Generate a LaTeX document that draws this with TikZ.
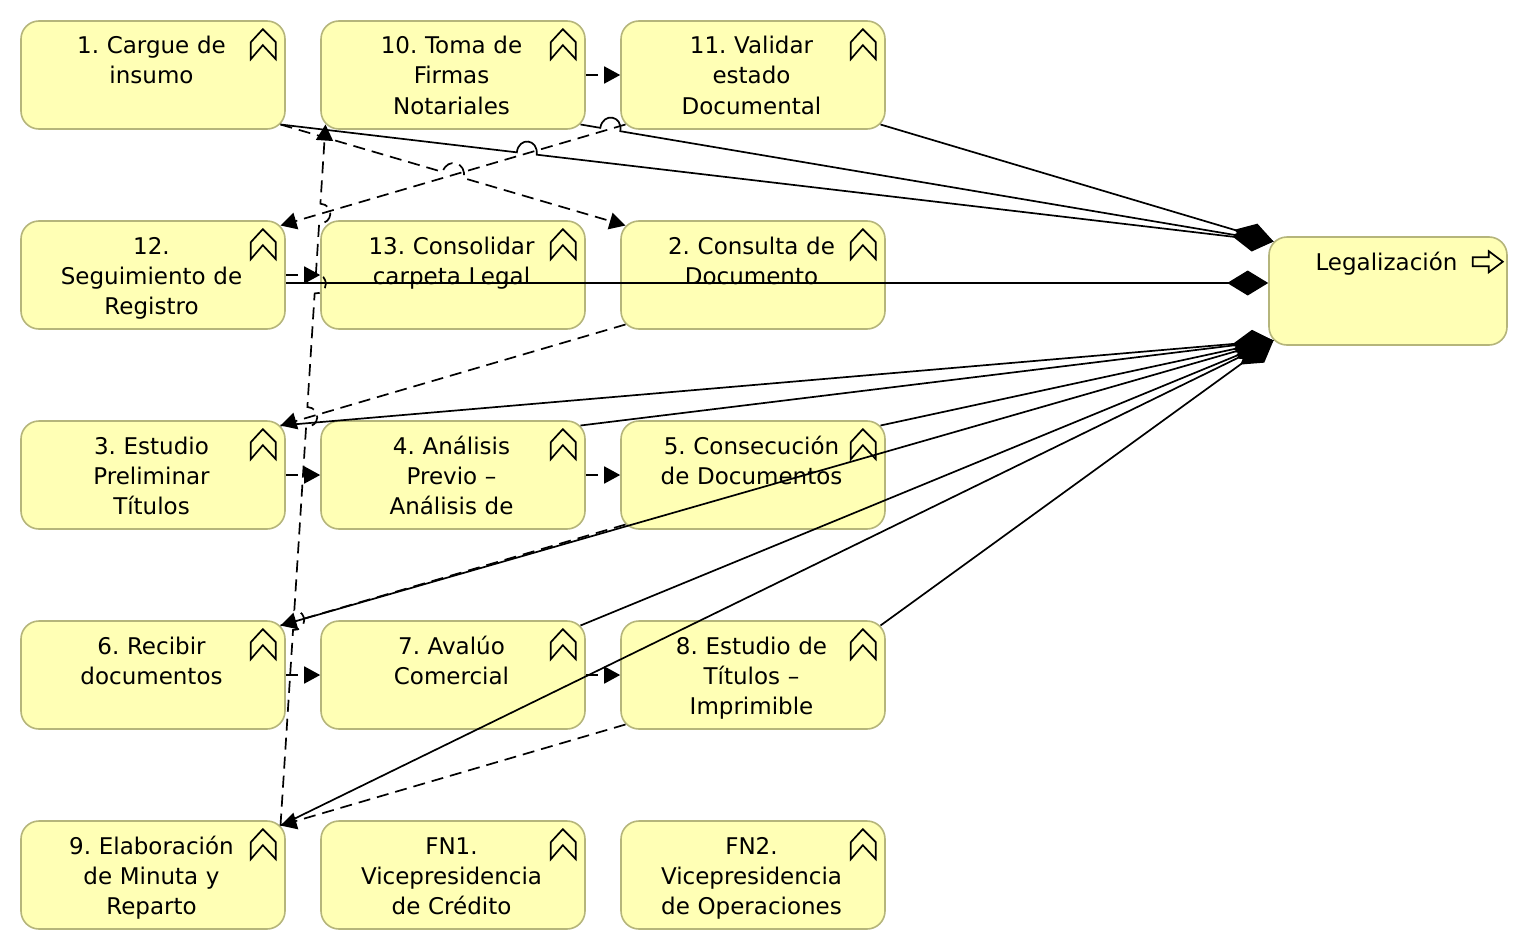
\documentclass[tikz,border=0pt]{standalone}
\usepackage{fontspec}
\setmainfont[WordSpace=0.8]{DejaVu Sans}
\usetikzlibrary{arrows.meta}
\usetikzlibrary{calc}
\definecolor{taskfill}{HTML}{FFFFB5}
\definecolor{taskline}{HTML}{B5B57B}
\tikzset{task/.style={draw=taskline,fill=taskfill,line width=1.6pt,rounded corners=18pt,
  minimum width=264pt,minimum height=108pt,text width=260pt,align=center,inner sep=0pt,
  font=\fontsize{23}{30}\selectfont,
  execute at begin node=\frenchspacing\advance\rightskip 3pt\rule[-7pt]{0pt}{32pt},execute at end node=\rule[-7pt]{0pt}{32pt}},
 cse/.style={xshift=-5.3pt,yshift=5.3pt},
 csw/.style={xshift=5.3pt,yshift=5.3pt},
 cne/.style={xshift=-5.3pt,yshift=-5.3pt},
 cnw/.style={xshift=5.3pt,yshift=-5.3pt},
 icon/.style={draw=black,line width=1.7pt,line join=miter},
 part/.style={draw=black,line width=1.7pt,-{Diamond[length=41pt,width=25pt]}},
 trigger/.style={draw=black,line width=1.7pt,dash pattern=on 12pt off 7pt,-{Triangle[length=16pt,width=17pt]}},
 }
\newcommand{\hop}[5]{-- ($#1!#3-#4!#2$) .. controls ($#1!#3-#4!#2!#5!90:#2$) and ($#1!#3+#4!#2!#5!90:#2$) .. ($#1!#3+#4!#2$)}

\begin{document}
\begin{tikzpicture}[x=1pt,y=-1pt]
        \useasboundingbox (0,0) rectangle (1528,950);
        \node[task] (cargue) at (153,75) {1. Cargue de\\insumo\\~};
        \node[task] (toma) at (453,75) {10. Toma de\\Firmas\\Notariales};
        \node[task] (validar) at (753,75) {11. Validar\\estado\\Documental};
        \node[task] (seguimiento) at (153,275) {12.\\Seguimiento de\\Registro};
        \node[task] (consolidar) at (453,275) {13. Consolidar\\carpeta Legal\\~};
        \node[task] (consulta) at (753,275) {2. Consulta de\\Documento\\~};
        \node[task] (estudio) at (153,475) {3. Estudio\\Preliminar\\Títulos};
        \node[task] (analisis) at (453,475) {4. Análisis\\Previo –\\Análisis de};
        \node[task] (consecucion) at (753,475) {5. Consecución\\de Documentos\\~};
        \node[task] (recibir) at (153,675) {6. Recibir\\documentos\\~};
        \node[task] (avaluo) at (453,675) {7. Avalúo\\Comercial\\~};
        \node[task] (imprimible) at (753,675) {8. Estudio de\\Títulos –\\Imprimible};
        \node[task] (minuta) at (153,875) {9. Elaboración\\de Minuta y\\Reparto};
        \node[task] (credito) at (453,875) {FN1.\\Vicepresidencia\\de Crédito};
        \node[task] (operaciones) at (753,875) {FN2.\\Vicepresidencia\\de Operaciones};
        \node[task,minimum width=238pt,text width=234pt] (legal) at (1388,291) {Legalización\\~\\~};
        \foreach \n in {cargue,toma,validar,seguimiento,consolidar,consulta,estudio,analisis,
                consecucion,recibir,avaluo,imprimible,minuta,credito,operaciones} {
                \draw[icon] ([xshift=-35pt,yshift=-22pt]\n.north east) -- ++(12,-13) -- ++(13,13)
                        -- ++(0,17) -- ++(-13,-14) -- ++(-12,14) -- cycle;
        }
        \draw[icon] ([xshift=-35pt,yshift=-21pt]legal.north east) -- ++(16,0) -- ++(0,-6) -- ++(14,10.5)
                -- ++(-14,10.5) -- ++(0,-6) -- ++(-16,0) -- cycle;
        \draw[part] ([cse]cargue.south east) \hop{([cse]cargue.south east)}{([cnw]legal.north west)}{.248}{.01}{16pt} -- ([cnw]legal.north west);
        \draw[part] ([cse]toma.south east) \hop{([cse]toma.south east)}{([cnw]legal.north west)}{.043}{.0144}{16pt} -- ([cnw]legal.north west);
        \draw[part] ([cse]validar.south east) -- ([cnw]legal.north west);
        \draw[part] ([yshift=-8pt]seguimiento.east) -- ([yshift=8pt]legal.west);
        \draw[part] ([cne]estudio.north east) -- ([csw]legal.south west);
        \draw[part] ([cne]analisis.north east) -- ([csw]legal.south west);
        \draw[part] ([cne]consecucion.north east) -- ([csw]legal.south west);
        \draw[part] ([cne]recibir.north east) -- ([csw]legal.south west);
        \draw[part] ([cne]avaluo.north east) -- ([csw]legal.south west);
        \draw[part] ([cne]imprimible.north east) -- ([csw]legal.south west);
        \draw[part] ([cne]minuta.north east) -- ([csw]legal.south west);
        \draw[trigger] ([cse]cargue.south east) \hop{([cse]cargue.south east)}{([cnw]consulta.north west)}{.5}{.03}{16pt} -- ([cnw]consulta.north west);
        \draw[trigger] ([csw]consulta.south west) -- ([cne]estudio.north east);
        \draw[trigger] (estudio) -- (analisis);
        \draw[trigger] (analisis) -- (consecucion);
        \draw[trigger] ([csw]consecucion.south west) -- ([cne]recibir.north east);
        \draw[trigger] (recibir) -- (avaluo);
        \draw[trigger] (avaluo) -- (imprimible);
        \draw[trigger] ([csw]imprimible.south west) -- ([cne]minuta.north east);
        \draw[trigger] ([cne]minuta.north east) \hop{([cne]minuta.north east)}{([csw]toma.south west)}{.293}{.014}{-14pt}
                \hop{([cne]minuta.north east)}{([csw]toma.south west)}{.583}{.014}{-14pt}
                \hop{([cne]minuta.north east)}{([csw]toma.south west)}{.773}{.014}{-14pt}
                \hop{([cne]minuta.north east)}{([csw]toma.south west)}{.873}{.014}{-14pt} -- ([csw]toma.south west);
        \draw[trigger] (toma) -- (validar);
        \draw[trigger] ([csw]validar.south west) -- ([cne]seguimiento.north east);
        \draw[trigger] (seguimiento) -- (consolidar);
    \end{tikzpicture}
\end{document}
